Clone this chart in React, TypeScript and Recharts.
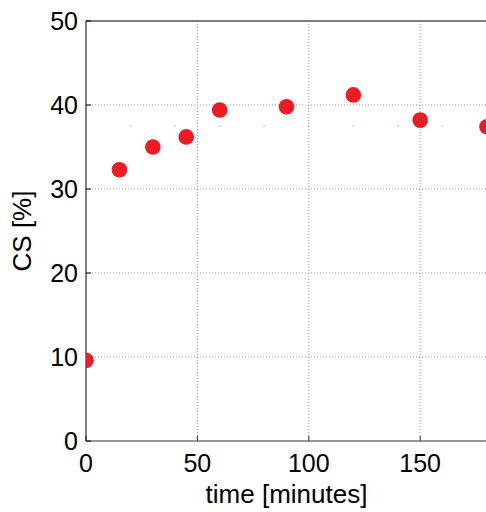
import React from 'react'
import {
  ScatterChart,
  Scatter,
  XAxis,
  YAxis,
  CartesianGrid,
  ReferenceLine,
} from 'recharts'

// measured CS values over time
const times = [0, 15, 30, 45, 60, 90, 120, 150, 180]
const csValues = [9.6, 32.3, 35.0, 36.2, 39.4, 39.8, 41.2, 38.2, 37.4]

// faint dotted plateau line
const plateauTimes = [20, 40, 60, 80, 100, 120, 140, 160]
const plateauValue = 37.5

const xTicks = [0, 50, 100, 150]
const yTicks = [0, 10, 20, 30, 40, 50]

const points = times.map((t, i) => ({ t, cs: csValues[i] }))
const plateau = plateauTimes.map((t) => ({ t, cs: plateauValue }))

const FONT = '"Liberation Sans", Arial, Helvetica, sans-serif'
const RED = '#ed1c24'

const Dot = (props: any) => {
  const { cx, cy } = props
  return <circle cx={cx} cy={cy} r={7.8} fill={RED} />
}

const Speck = (props: any) => {
  const { cx, cy } = props
  return <rect x={cx - 1} y={cy - 0.5} width={2} height={1} fill="#f4a0a0" />
}

export default function App() {
  return (
    <div
      style={{
        position: 'fixed',
        left: 0,
        top: 0,
        width: 486,
        height: 512,
        overflow: 'hidden',
        background: '#fff',
        fontFamily: FONT,
      }}
    >
      <ScatterChart
        width={520}
        height={512}
        margin={{ top: 21, right: 33, left: 0, bottom: 0 }}
      >
        <CartesianGrid
          stroke="#999"
          strokeDasharray="1 2"
          horizontalValues={[10, 20, 30, 40]}
          verticalValues={[50, 100, 150]}
        />
        <XAxis
          type="number"
          dataKey="t"
          domain={[0, 180]}
          ticks={xTicks}
          allowDataOverflow
          height={71}
          stroke="#333"
          tickSize={-5}
          tickMargin={18}
          tick={{ fontSize: 25, fill: '#000', fontFamily: FONT }}
          label={{
            value: 'time [minutes]',
            position: 'insideBottom',
            offset: 9,
            fontSize: 26,
            fill: '#000',
            fontFamily: FONT,
          }}
        />
        <YAxis
          type="number"
          dataKey="cs"
          domain={[0, 50]}
          ticks={yTicks}
          allowDataOverflow
          width={86}
          stroke="#000"
          tickSize={-5}
          tickMargin={13}
          tick={{ fontSize: 25, fill: '#000', fontFamily: FONT }}
          label={{
            value: 'CS [%]',
            angle: -90,
            position: 'insideLeft',
            offset: 22,
            fontSize: 26,
            fill: '#000',
            fontFamily: FONT,
            style: { textAnchor: 'middle' },
          }}
        />
        <ReferenceLine y={50} stroke="#555" strokeWidth={1.5} />
        <Scatter data={plateau} shape={<Speck />} isAnimationActive={false} />
        <Scatter data={points} shape={<Dot />} isAnimationActive={false} />
      </ScatterChart>
    </div>
  )
}
